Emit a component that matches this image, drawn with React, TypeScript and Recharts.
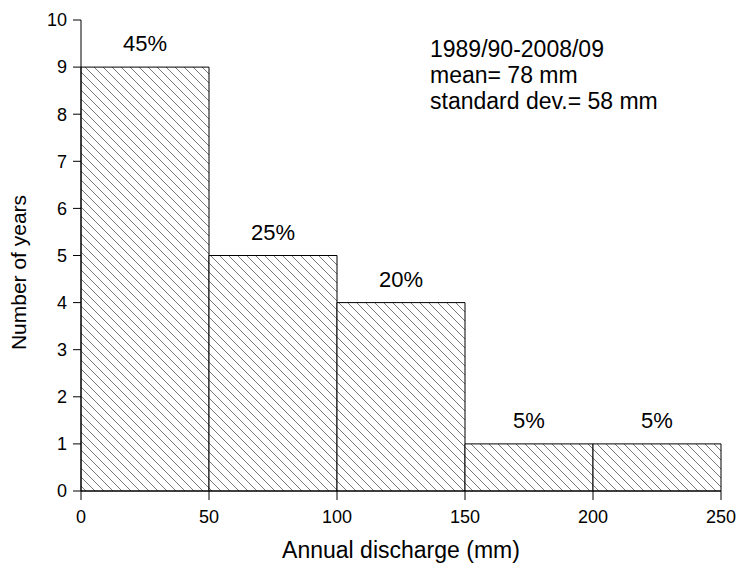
import React from "react";
import {
  ComposedChart,
  Bar,
  XAxis,
  YAxis,
  LabelList,
} from "recharts";

const bins = ["0-50", "50-100", "100-150", "150-200", "200-250"];
const years = [9, 5, 4, 1, 1];
const shares = ["45%", "25%", "20%", "5%", "5%"];
const xTicks = [0, 50, 100, 150, 200, 250];
const yTicks = [0, 1, 2, 3, 4, 5, 6, 7, 8, 9, 10];
const noteLines = ["1989/90-2008/09", "mean= 78 mm", "standard dev.= 58 mm"];

const data = bins.map((bin, i) => ({
  bin,
  years: years[i],
  share: shares[i],
  mid: 25 + i * 50,
}));

const font = "'Liberation Sans', Arial, sans-serif";

function YTitle({ viewBox }: any) {
  const cy = viewBox.y + viewBox.height / 2 + 17;
  return (
    <text
      x={18}
      y={cy}
      transform={`rotate(-90 18 ${cy})`}
      textAnchor="middle"
      dominantBaseline="central"
      fill="#000"
      fontSize={21}
      fontFamily={font}
    >
      Number of years
    </text>
  );
}

export default function App() {
  return (
    <div
      style={{
        position: "fixed",
        left: 0,
        top: 0,
        width: 738,
        height: 567,
        overflow: "hidden",
        background: "#fff",
        fontFamily: font,
      }}
    >
      <ComposedChart
        width={738}
        height={567}
        data={data}
        margin={{ top: 20, right: 17, left: 0, bottom: 0 }}
        barCategoryGap={0}
        barGap={0}
      >
        <defs>
          <pattern id="hatch" patternUnits="userSpaceOnUse" width={9} height={9}>
            <rect width={9} height={9} fill="#fff" />
            <path d="M0,0 L9,9 M-1,8 L1,10 M8,-1 L10,1" stroke="#555" strokeWidth={0.8} />
          </pattern>
        </defs>
        <XAxis xAxisId="cat" dataKey="bin" hide height={0} />
        <XAxis
          xAxisId="num"
          type="number"
          dataKey="mid"
          domain={[0, 250]}
          ticks={xTicks}
          allowDataOverflow
          height={76}
          stroke="#000"
          tickSize={9}
          tickMargin={10}
          fontSize={18}
          fontFamily={font}
          tick={{ fill: "#000", fontSize: 18 }}
          label={{
            value: "Annual discharge (mm)",
            position: "insideBottom",
            offset: 9,
            fill: "#000",
            fontSize: 23,
            fontFamily: font,
          }}
        />
        <XAxis
          xAxisId="top"
          orientation="top"
          type="number"
          dataKey="mid"
          domain={[0, 250]}
          height={0}
          tick={false}
          tickLine={false}
          stroke="#000"
        />
        <YAxis
          domain={[0, 10]}
          ticks={yTicks}
          width={81}
          stroke="#000"
          tickSize={8}
          tickMargin={6}
          fontSize={18}
          fontFamily={font}
          tick={{ fill: "#000", fontSize: 18 }}
          label={<YTitle />}
        />
        <YAxis
          yAxisId="right"
          orientation="right"
          domain={[0, 10]}
          width={0}
          tick={false}
          tickLine={false}
          stroke="#000"
        />
        <Bar
          xAxisId="cat"
          dataKey="years"
          fill="url(#hatch)"
          stroke="#000"
          strokeWidth={1}
          isAnimationActive={false}
        >
          <LabelList
            dataKey="share"
            position="top"
            offset={16}
            fill="#000"
            fontSize={22}
            fontFamily={font}
          />
        </Bar>
      </ComposedChart>
      <div
        style={{
          position: "absolute",
          left: 430,
          top: 36,
          fontSize: 23,
          lineHeight: "26px",
          color: "#000",
        }}
      >
        {noteLines.map((l) => (
          <div key={l}>{l}</div>
        ))}
      </div>
    </div>
  );
}
